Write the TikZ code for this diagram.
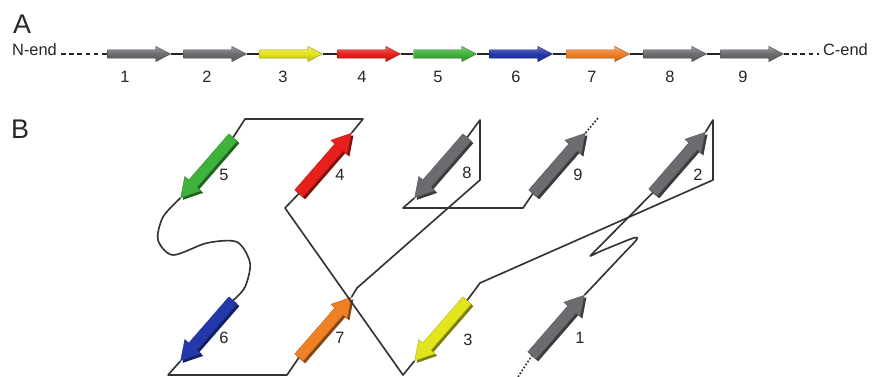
\documentclass[tikz,border=0pt]{standalone}
\usepackage{fontspec}
\setmainfont{Liberation Sans}
\definecolor{stgray}{RGB}{108,108,112}
\definecolor{styellow}{RGB}{226,228,28}
\definecolor{stred}{RGB}{232,32,28}
\definecolor{stgreen}{RGB}{62,178,58}
\definecolor{stblue}{RGB}{36,56,172}
\definecolor{storange}{RGB}{240,128,36}
\usetikzlibrary{shapes.arrows,shadows,calc}

\tikzset{
  astrand/.style={single arrow, draw=#1!65!black, line width=0.3pt, top color=#1!70!white, bottom color=#1!80!black, middle color=#1, minimum height=1.89cm, inner xsep=0pt, inner ysep=0.12cm, single arrow head extend=0.105cm, single arrow tip angle=55},
  strand/.style={single arrow, fill=#1, draw=#1!75!black, line width=0.3pt, general shadow={fill=#1!55!black, shadow xshift=1.8pt, shadow yshift=-1.8pt}, minimum height=2.4cm, inner xsep=0pt, inner ysep=0.16cm, single arrow head extend=0.16cm, single arrow tip angle=60},
  strandup/.style={strand=#1, rotate=49},
  stranddown/.style={strand=#1, rotate=229},
  num/.style={font=\fontsize{14}{16}\selectfont, text=black!85},
  panel/.style={font=\fontsize{23}{25}\selectfont, text=black!85},
  backbone/.style={line width=1.4pt, black!80, line join=round},
  thinbone/.style={line width=0.9pt, black!85},
}

\begin{document}
\begin{tikzpicture}[x=0.03cm, y=-0.03cm]
  \useasboundingbox (0,0) rectangle (873,377);
  % Panel A: sequence order
  \node[panel] (pa) at (22,24) {A};
  \node[num, anchor=east] (nend) at (61,50) {N-end};
  \node[num, anchor=west] (cend) at (819,50) {C-end};
  \node[astrand=stgray] (a1) at (135,54) {};
  \node[astrand=stgray] (a2) at (211,54) {};
  \node[astrand=styellow] (a3) at (287,54) {};
  \node[astrand=stred] (a4) at (365,54) {};
  \node[astrand=stgreen] (a5) at (441,54) {};
  \node[astrand=stblue] (a6) at (517,54) {};
  \node[astrand=storange] (a7) at (594,54) {};
  \node[astrand=stgray] (a8) at (671,54) {};
  \node[astrand=stgray] (a9) at (748,54) {};
  \node[num] (n1) at (125,77) {1};
  \node[num] (n2) at (207,77) {2};
  \node[num] (n3) at (283,77) {3};
  \node[num] (n4) at (362,77) {4};
  \node[num] (n5) at (438,77) {5};
  \node[num] (n6) at (516,77) {6};
  \node[num] (n7) at (592,77) {7};
  \node[num] (n8) at (670,77) {8};
  \node[num] (n9) at (743,77) {9};
  \draw[thinbone, dash pattern=on 4pt off 3pt] (a1.tail -| nend.east) -- (a1.tail);
  \draw[thinbone] (a1.tip) -- (a2.tail);
  \draw[thinbone] (a2.tip) -- (a3.tail);
  \draw[thinbone] (a3.tip) -- (a4.tail);
  \draw[thinbone] (a4.tip) -- (a5.tail);
  \draw[thinbone] (a5.tip) -- (a6.tail);
  \draw[thinbone] (a6.tip) -- (a7.tail);
  \draw[thinbone] (a7.tip) -- (a8.tail);
  \draw[thinbone] (a8.tip) -- (a9.tail);
  \draw[thinbone, dash pattern=on 4pt off 3pt] (a9.tip) -- (a9.tip -| cend.west);
  % Panel B: strand topology
  \node[panel] (pb) at (20,129) {B};
  % top row
  \node[stranddown=stgreen] (s5) at (210,164) {};
  \node[strandup=stred] (s4) at (322,167) {};
  \node[stranddown=stgray] (s8) at (444,164) {};
  \node[strandup=stgray] (s9) at (556,167) {};
  \node[strandup=stgray] (s2) at (676,166) {};
  % bottom row
  \node[stranddown=stblue] (s6) at (210,327) {};
  \node[strandup=storange] (s7) at (322,331) {};
  \node[stranddown=styellow] (s3) at (444,327) {};
  \node[strandup=stgray] (s1) at (555,329) {};
  \node[num] (l1) at (580,338) {1};
  \node[num] (l2) at (698,175) {2};
  \node[num] (l3) at (468,340) {3};
  \node[num] (l4) at (340,175) {4};
  \node[num] (l5) at (224,175) {5};
  \node[num] (l6) at (224,338) {6};
  \node[num] (l7) at (340,338) {7};
  \node[num] (l8) at (467,173) {8};
  \node[num] (l9) at (578,175) {9};
  % loops between strands
  \coordinate (nterm) at (518,377);
  \coordinate (cterm) at (598,118);
  \draw[backbone, dash pattern=on 1.5pt off 1.5pt] (nterm) -- (s1.tail);
  \draw[backbone] (s1.tip) -- (627,250) .. controls (640,237) and (641,235) .. (628,240) -- (601,251) .. controls (588,257) and (587,259) .. (597,249) -- (s2.tail);
  \draw[backbone] (s2.tip) -- (713,120) -- (713,180) -- (480,283) -- (s3.tail);
  \draw[backbone] (s3.tip) -- (403,375) -- (285,208) -- (s4.tail);
  \draw[backbone] (s4.tip) -- (363,119) -- (245,119) -- (s5.tail);
  \draw[backbone] plot[smooth] coordinates {(s5.tip) (163,217) (158,240) (173,255) (207,243) (237,242) (250,263) (245,287) (s6.tail)};
  \draw[backbone] (s6.tip) -- (168,375) -- (287,375) -- (s7.tail);
  \draw[backbone] (s7.tip) -- (357,288) -- (480,180) -- (480,120) -- (s8.tail);
  \draw[backbone] (s8.tip) -- (403,208) -- (523,208) -- (s9.tail);
  \draw[backbone, dash pattern=on 1.5pt off 1.5pt] (s9.tip) -- (cterm);
\end{tikzpicture}
\end{document}
